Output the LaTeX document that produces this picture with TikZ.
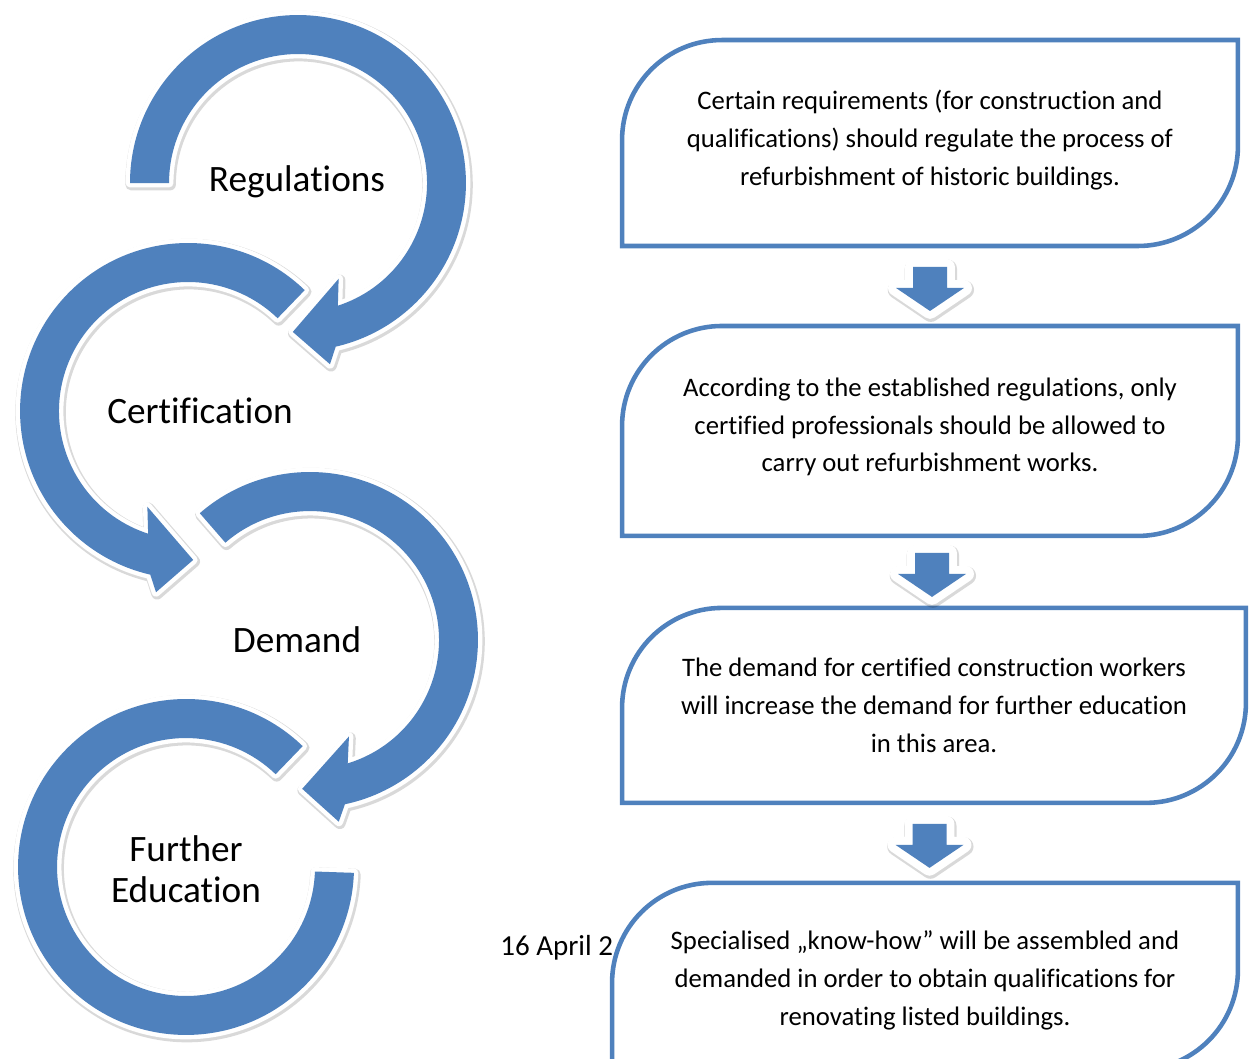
\documentclass[tikz,border=0pt]{standalone}
\usepackage{fontspec}
\setmainfont{Carlito}[Ligatures={TeX,NoCommon}]
\usetikzlibrary{positioning,calc}
\definecolor{ringblue}{RGB}{79,129,189}
\newcommand{\boxfont}{\fontsize{15.2}{21.5}\selectfont}
\newcommand{\ringfont}{\fontsize{21.2}{23.3}\selectfont}
\tikzstyle{box} = [rectangle, inner sep=0pt, outer sep=0pt]
\tikzstyle{boxtext} = [align=center, inner sep=0pt, font=\boxfont]
\tikzstyle{frame} = [draw=ringblue, fill=white, line width=2.6pt]
\tikzstyle{ringlabel} = [align=center, font=\ringfont]
\tikzstyle{ring} = [fill=ringblue, preaction={draw=black, opacity=0.15, line width=6.6pt, line join=round, transform canvas={shift={(0.6pt,-0.9pt)}}}, preaction={draw=white, line width=5pt, line join=round}]
\tikzstyle{blockarrow} = [fill=ringblue, preaction={draw=black, opacity=0.15, line width=10.4pt, line join=round, transform canvas={shift={(0.5pt,-1pt)}}}, preaction={draw=white, line width=9pt, line join=round}]

% box outline: round top left and bottom right corners
\newcommand{\diagframe}[1]{\draw[frame] (#1.south west) -- ([yshift=-2cm]#1.north west) arc[start angle=180, end angle=90, radius=2cm] -- (#1.north east) -- ([yshift=2cm]#1.south east) arc[start angle=0, end angle=-90, radius=2cm] -- cycle;}
% circular arrow: centre, start angle, end angle, turn (-1 or 1)
\newcommand{\ringarrow}[4]{\fill[ring] ([shift={(#2:168)}]#1) arc[start angle=#2, end angle={#3+(#4)*5}, radius=3.36cm] -- ([shift={({#3+(#4)*8}:184)}]#1) -- ([shift={({#3+(#4)*20}:149)}]#1) -- ([shift={({#3-(#4)*5}:104)}]#1) -- ([shift={(#3:129)}]#1) arc[start angle=#3, end angle=#2, radius=2.58cm] -- cycle;}
% block arrow between two boxes
\newcommand{\downblock}[2]{\coordinate (m) at ($(#1.south)!0.5!(#2.north)$);
  \fill[blockarrow] ([shift={(-17,19)}]m) -- ([shift={(17,19)}]m) -- ([shift={(17,-2)}]m) -- ([shift={(34,-2)}]m) -- ([shift={(0,-25)}]m) -- ([shift={(-34,-2)}]m) -- ([shift={(-17,-2)}]m) -- cycle;}

\begin{document}
\begin{tikzpicture}[x=0.02cm, y=0.02cm]
        \useasboundingbox (0,0) rectangle (1249,-1059);

        % left: circular arrows
        \coordinate (c1) at (298,-183);
        \coordinate (c2) at (188,-411);
        \coordinate (c3) at (310,-640);
        \coordinate (c4) at (186,-867);
        \ringarrow{c1}{180}{-72}{-1}
        \ringarrow{c2}{46}{252}{1}
        \ringarrow{c3}{131}{-73}{-1}
        \fill[ring] ([shift={(46:168)}]c4) arc[start angle=46, end angle=358, radius=3.36cm] -- ([shift={(358:129)}]c4) arc[start angle=358, end angle=46, radius=2.58cm] -- cycle;
        \node [ringlabel] (regulations) at (297,-182) {Regulations};
        \node [ringlabel] (certification) at (200,-411) {Certification};
        \node [ringlabel] (demand) at (297,-640) {Demand};
        \node [ringlabel] (furthered) at (186,-869) {Further\\Education};

        % right: boxes
        \node [box, minimum width=12.32cm, minimum height=4.12cm] (b1) at (930,-143) {};
        \node [box, minimum width=12.32cm, minimum height=4.2cm, below=1.6cm of b1] (b2) {};
        \node [box, minimum width=12.48cm, minimum height=3.9cm, below=1.44cm of b2, xshift=0.08cm] (b3) {};
        \node [box, minimum width=12.52cm, minimum height=3.74cm, below=1.6cm of b3, xshift=-0.18cm] (b4) {};
        \node [anchor=base west, inner sep=0pt, font=\fontsize{16.5}{18}\selectfont] (date) at (500,-955) {16 April 2};
        \diagframe{b1}
        \diagframe{b2}
        \diagframe{b3}
        \diagframe{b4}
        \node [boxtext] (t1) at ([yshift=0.06cm]b1) {Certain requirements (for construction and\\qualifications) should regulate the process of\\refurbishment of historic buildings.};
        \node [boxtext] (t2) at ([yshift=0.08cm]b2) {According to the established regulations, only\\certified professionals should be allowed to\\carry out refurbishment works.};
        \node [boxtext] (t3) at (b3) {The demand for certified construction workers\\will increase the demand for further education\\in this area.};
        \node [boxtext] (t4) at ([yshift=-0.08cm]b4) {Specialised „know-how” will be assembled and\\demanded in order to obtain qualifications for\\renovating listed buildings.};
        \downblock{b1}{b2}
        \downblock{b2}{b3}
        \downblock{b3}{b4}
\end{tikzpicture}
\end{document}
